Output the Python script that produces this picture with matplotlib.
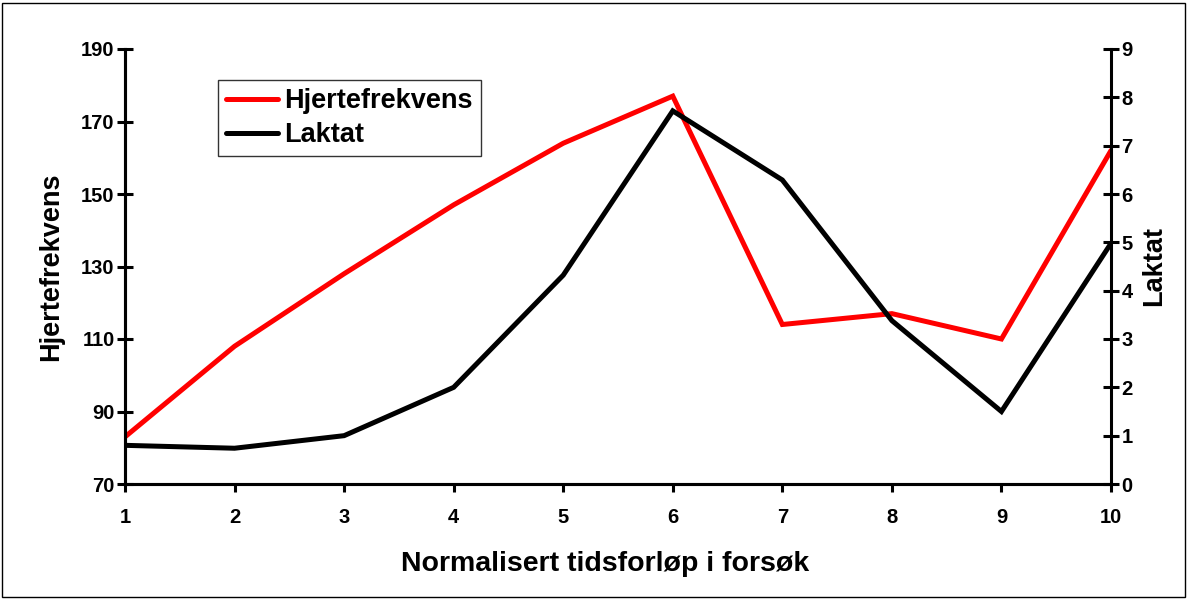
import matplotlib
matplotlib.use("Agg")
import matplotlib.pyplot as plt
from matplotlib.patches import Rectangle

x = [1, 2, 3, 4, 5, 6, 7, 8, 9, 10]
hjertefrekvens = [83, 108, 128, 147, 164, 177, 114, 117, 110, 162]
laktat = [0.8, 0.74, 1.0, 2.0, 4.32, 7.72, 6.29, 3.38, 1.5, 4.98]
left_ticks = [70, 90, 110, 130, 150, 170, 190]
right_ticks = [0, 1, 2, 3, 4, 5, 6, 7, 8, 9]

plt.rcParams['font.family'] = ['Liberation Sans', 'DejaVu Sans']
plt.rcParams['font.weight'] = 'bold'

W, H = 1188, 599
fig = plt.figure(figsize=(W / 100, H / 100), dpi=100)
ax = fig.add_axes([125 / W, 1 - 484 / H, (1111 - 125) / W, (484 - 49) / H])
ax2 = ax.twinx()

l1, = ax.plot(x, hjertefrekvens, color='#ff0000', lw=3.6, solid_joinstyle='miter',
              solid_capstyle='round', label='Hjertefrekvens')
l2, = ax2.plot(x, laktat, color='black', lw=3.6, solid_joinstyle='miter',
               solid_capstyle='round', label='Laktat')

ax.set_xlim(1, 10)
ax.set_ylim(70, 190)
ax2.set_ylim(0, 9)
ax.set_xticks(x)
ax.set_yticks(left_ticks)
ax2.set_yticks(right_ticks)

for a in (ax, ax2):
    a.spines['top'].set_visible(False)
    for s in a.spines.values():
        s.set_linewidth(2.2)
ax.spines['right'].set_visible(False)

ax.tick_params(axis='y', direction='inout', length=12, width=2.2, labelsize=14.5, pad=1.5)
ax.tick_params(axis='x', direction='out', length=6, width=2.2, labelsize=14.5, pad=11.5)
ax2.tick_params(axis='y', direction='inout', length=12, width=2.2, labelsize=14.5, pad=1.5)
for lab in ax.get_xticklabels() + ax.get_yticklabels() + ax2.get_yticklabels():
    lab.set_fontweight('bold')

ax.set_ylabel('Hjertefrekvens', fontsize=19.5, fontweight='bold', labelpad=12)
ax2.set_ylabel('Laktat', fontsize=19.5, fontweight='bold', labelpad=6)
ax.set_xlabel('Normalisert tidsforløp i forsøk', fontsize=20.5, fontweight='bold')
ax.xaxis.set_label_coords((605 - 125) / (1111 - 125), -(564 - 484) / (484 - 49))
ax.xaxis.label.set_va('center')

leg = ax.legend(handles=[l1, l2], loc='upper left',
                bbox_to_anchor=((218 - 125) / (1111 - 125), 1 - (80 - 49) / (484 - 49)),
                prop={'size': 19.5, 'weight': 'bold'}, frameon=True, fancybox=False,
                edgecolor='black', borderpad=0.3, handlelength=1.9, handletextpad=0.25,
                labelspacing=0.3, borderaxespad=0)
leg.get_frame().set_linewidth(1)

fig.patches.append(Rectangle((2 / W, 2 / H), (W - 5) / W, (H - 5) / H, transform=fig.transFigure,
                             fill=False, edgecolor='black', lw=1))

fig.savefig('out.png', dpi=100)
